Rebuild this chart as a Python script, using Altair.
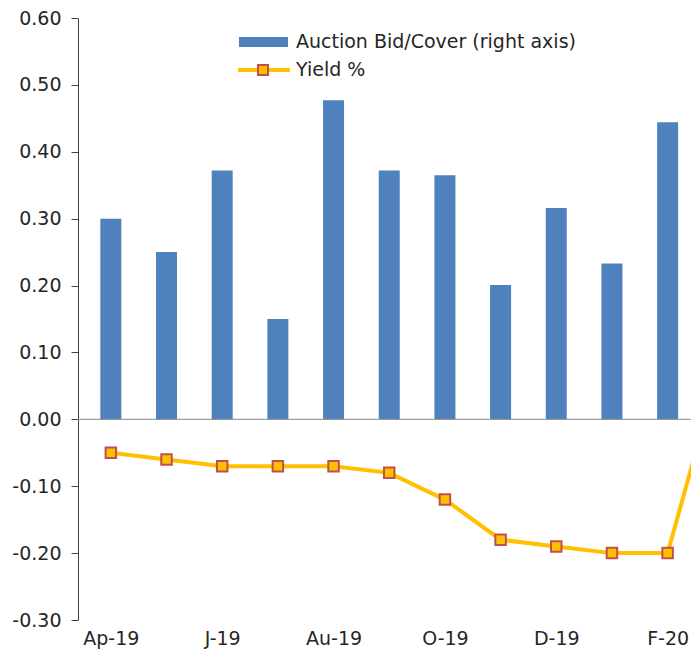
import altair as alt
import pandas as pd

months = ["Apr-19", "May-19", "Jun-19", "Jul-19", "Aug-19", "Sep-19",
          "Oct-19", "Nov-19", "Dec-19", "Jan-20", "Feb-20", "Mar-20"]
tick_labels = ["Ap-19", "M-19", "J-19", "J-19", "Au-19", "S-19",
               "O-19", "N-19", "D-19", "J-20", "F-20", "M-20"]
bid_cover = [0.30, 0.25, 0.372, 0.15, 0.477, 0.372, 0.365, 0.201, 0.316, 0.233, 0.444, None]
yields = [-0.05, -0.06, -0.07, -0.07, -0.07, -0.08, -0.12, -0.18, -0.19, -0.20, -0.20, 0.10]
legend_labels = ["Auction Bid/Cover (right axis)", "Yield %"]

FONT = "DejaVu Sans"
BLUE = "#4F81BD"
ORANGE = "#FFC000"
RED = "#C0504D"

df = pd.DataFrame({"idx": list(range(len(months))), "month": months,
                   "bid": bid_cover, "yld": yields})

label_expr = "[" + ",".join("'" + t + "'" for t in tick_labels) + "][datum.value]"

xscale = alt.Scale(domain=[-0.5, 10.33], nice=False, zero=False)
yscale = alt.Scale(domain=[-0.3, 0.6], nice=False)

x_axis = alt.Axis(values=[0, 2, 4, 6, 8, 10], labelExpr=label_expr,
                  domain=False, ticks=False, grid=False, title=None,
                  labelFont=FONT, labelFontSize=19, labelColor="#262626",
                  labelPadding=9, labelFlush=False, labelOverlap=False)
y_axis = alt.Axis(values=[-0.3, -0.2, -0.1, 0.0, 0.1, 0.2, 0.3, 0.4, 0.5, 0.6],
                  labelExpr="replace(format(datum.value, '.2f'), '\u2212', '-')",
                  grid=False, title=None,
                  domainColor="#404040", tickColor="#404040", tickSize=7,
                  labelFont=FONT, labelFontSize=19, labelColor="#262626",
                  labelPadding=10, labelOverlap=False)

x_enc = alt.X("idx:Q", scale=xscale, axis=x_axis)

base = alt.Chart(df)

bars = base.transform_filter("datum.bid != null").mark_bar(
    color=BLUE, size=21, clip=True
).encode(x=x_enc, y=alt.Y("bid:Q", scale=yscale, axis=y_axis))

zero = alt.Chart(pd.DataFrame({"z": [0.0]})).mark_rule(color="#898989", strokeWidth=1).encode(
    y=alt.Y("z:Q", scale=yscale, axis=y_axis))

line = base.mark_line(color=ORANGE, strokeWidth=4, clip=True).encode(
    x=x_enc, y=alt.Y("yld:Q", scale=yscale, axis=y_axis))
pts = base.mark_point(shape="square", filled=True, fill=ORANGE, stroke=RED, strokeWidth=2,
                      size=110, opacity=1, clip=True).encode(
    x=x_enc, y=alt.Y("yld:Q", scale=yscale, axis=y_axis))

leg = alt.Chart(pd.DataFrame({"label": legend_labels}))
leg_rect = leg.transform_filter(alt.datum.label == legend_labels[0]).mark_rect(color=BLUE).encode(
    x=alt.value(161), x2=alt.value(210), y=alt.value(19), y2=alt.value(29))
leg_line = leg.transform_filter(alt.datum.label == legend_labels[1]).mark_rule(
    color=ORANGE, strokeWidth=4).encode(x=alt.value(160), x2=alt.value(212), y=alt.value(52))
leg_pt = leg.transform_filter(alt.datum.label == legend_labels[1]).mark_point(
    shape="square", filled=True, fill=ORANGE, stroke=RED, strokeWidth=2, size=100, opacity=1
).encode(x=alt.value(185), y=alt.value(52))
leg_text1 = leg.transform_filter(alt.datum.label == legend_labels[0]).mark_text(
    align="left", baseline="middle", font=FONT, fontSize=19, color="#262626"
).encode(x=alt.value(218), y=alt.value(24), text="label:N")
leg_text2 = leg.transform_filter(alt.datum.label == legend_labels[1]).mark_text(
    align="left", baseline="middle", font=FONT, fontSize=19, color="#262626"
).encode(x=alt.value(218), y=alt.value(52), text="label:N")

chart = alt.layer(bars, zero, line, pts, leg_rect, leg_line, leg_pt, leg_text1, leg_text2).properties(
    width=613, height=602,
    autosize=alt.AutoSizeParams(type="none"),
    padding={"left": 70, "top": 10, "right": 0, "bottom": 29},
).configure(background="white", view=alt.ViewConfig(stroke=None))

chart.save("out.html", embed_options={"renderer": "svg", "actions": False})
